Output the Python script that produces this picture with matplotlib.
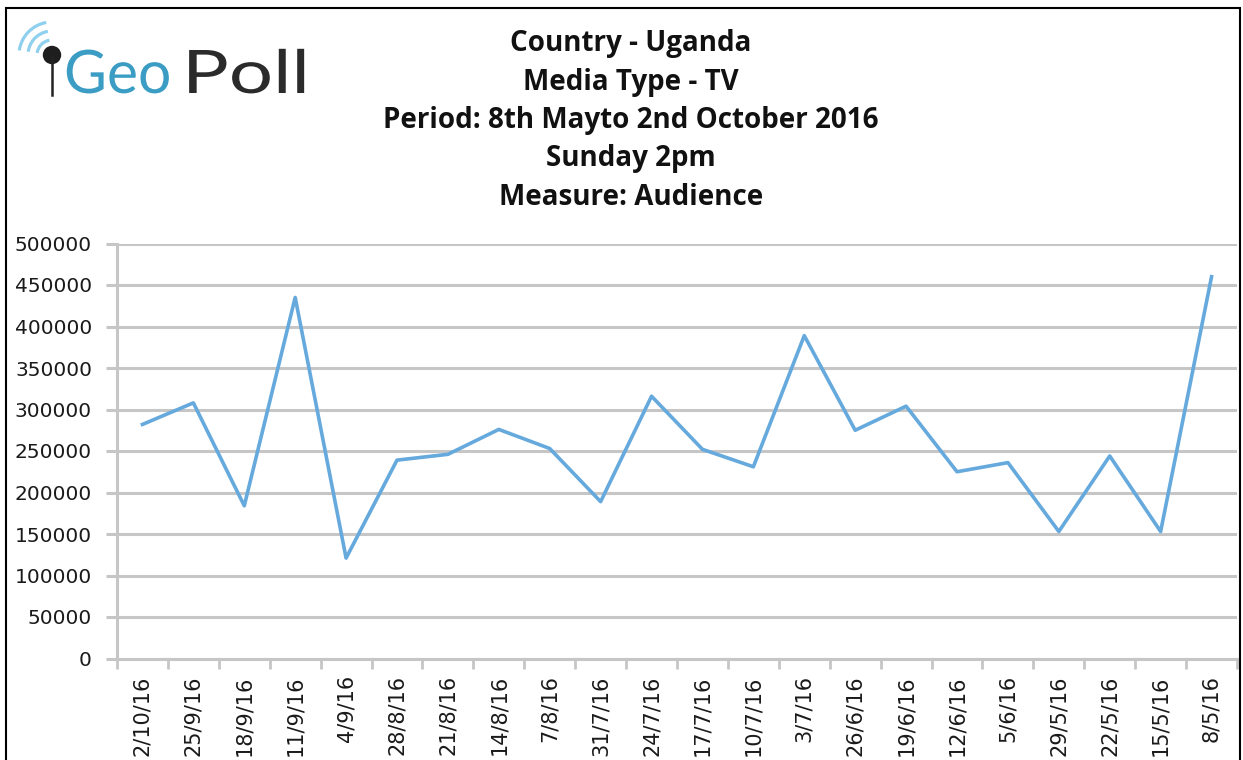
import matplotlib.pyplot as plt
from matplotlib.patches import Rectangle, Circle, Arc, PathPatch
from matplotlib.textpath import TextPath
from matplotlib.font_manager import FontProperties
from matplotlib.transforms import Affine2D

# datos
fechas = ["2/10/16", "25/9/16", "18/9/16", "11/9/16", "4/9/16", "28/8/16", "21/8/16",
          "14/8/16", "7/8/16", "31/7/16", "24/7/16", "17/7/16", "10/7/16", "3/7/16",
          "26/6/16", "19/6/16", "12/6/16", "5/6/16", "29/5/16", "22/5/16", "15/5/16", "8/5/16"]
audiencia = [282000, 308000, 184000, 435000, 121000, 239000, 246000,
             276000, 253000, 189000, 316000, 252000, 231000, 389000,
             275000, 304000, 225000, 236000, 153000, 244000, 153000, 460000]
y_ticks = [0, 50000, 100000, 150000, 200000, 250000, 300000, 350000, 400000, 450000, 500000]
titulo = ["Country - Uganda", "Media Type - TV", "Period: 8th Mayto 2nd October 2016",
          "Sunday 2pm", "Measure: Audience"]

W, H = 1243, 760
GRIS = "#c6c6c6"
fig = plt.figure(figsize=(W / 100, H / 100), dpi=100)
fig.patch.set_facecolor("white")

# marco negro
fig.patches.append(Rectangle((6 / W, -0.05), (1240 - 6) / W, 1 - 8 / H + 0.05,
                             transform=fig.transFigure, fill=False, edgecolor="black", lw=1.5))

y0, y500 = 658.5, 243.5
ax = fig.add_axes([117 / W, 1 - y0 / H, (1237 - 117) / W, (y0 - y500) / H])
x = list(range(len(fechas)))
ax.plot(x, audiencia, color="#65a9dd", lw=2.6, zorder=3)
ax.set_xlim(-0.5, len(fechas) - 0.5)
ax.set_ylim(0, 500000)
ax.set_yticks(y_ticks)
ax.set_yticklabels([str(v) for v in y_ticks], fontsize=14.5, family="DejaVu Sans", color="#1a1a1a")
ax.yaxis.grid(True, color=GRIS, lw=2.2)
ax.set_axisbelow(True)
ax.set_xticks([i - 0.5 for i in range(len(fechas) + 1)])
ax.set_xticklabels([])
ax.set_xticks(x, minor=True)
ax.set_xticklabels(fechas, minor=True, rotation=90, ha="center", va="top",
                   fontsize=15, family="DejaVu Sans", color="#1a1a1a")
ax.tick_params(axis="x", which="minor", length=0, pad=12)
ax.tick_params(axis="x", which="major", length=7, width=2, color=GRIS)
ax.tick_params(axis="y", length=8, width=2.2, color=GRIS, pad=10)
for s in ["top", "right"]:
    ax.spines[s].set_visible(False)
for s in ["left", "bottom"]:
    ax.spines[s].set_color(GRIS)
    ax.spines[s].set_linewidth(2.2)

# titulo
for i, t in enumerate(titulo):
    fig.text(631 / W, 1 - (44 + i * 38.3) / H, t, ha="center", va="center",
             fontsize=20, fontweight="bold", family="Open Sans", color="#111111")

# logo GeoPoll
fp = FontProperties(family="Lato")
for palabra, x0, sx, col in [("Geo", 64, 0.98, "#3c9dc4"), ("Poll", 182, 1.3, "#2b2b2b")]:
    tp = TextPath((0, 0), palabra, size=60, prop=fp)
    tr = Affine2D().scale(sx, 1.0).translate(x0, H - 93)
    fig.add_artist(PathPatch(tr.transform_path(tp), color=col, lw=0, transform=None))
fig.add_artist(plt.Line2D([52, 52], [H - 56, H - 95], color="#222222", lw=1.8, transform=None))
fig.add_artist(Circle((52, H - 55), 8.5, color="#1e1e1e", transform=None))
for r in [15, 24, 33]:
    fig.add_artist(Arc((52, H - 55), r * 2, r * 2, theta1=100, theta2=172,
                       color="#8fd0ee", lw=2.3, transform=None))

fig.savefig("out.png", dpi=100)
